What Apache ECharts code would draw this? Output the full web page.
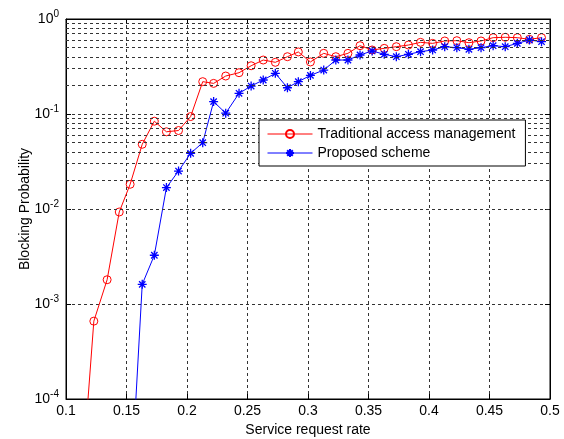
<!DOCTYPE html>
<html>
<head>
<meta charset="utf-8">
<script src="https://cdn.jsdelivr.net/npm/echarts@6/dist/echarts.min.js"></script>
<style>html,body{margin:0;padding:0;background:#fff;}#c{width:564px;height:439px;}</style>
</head>
<body>
<div id="c"></div>
<script>
// Data
var xRate = [0.113, 0.123, 0.134, 0.144, 0.153, 0.163, 0.173, 0.183, 0.193, 0.203,
             0.213, 0.222, 0.232, 0.243, 0.253, 0.263, 0.273, 0.283, 0.292, 0.302,
             0.313, 0.323, 0.333, 0.343, 0.353, 0.363, 0.373, 0.383, 0.393, 0.403,
             0.413, 0.423, 0.433, 0.443, 0.453, 0.463, 0.473, 0.483, 0.493];
var traditional = [1.3e-5, 0.00066, 0.0018, 0.0093, 0.0182, 0.048, 0.084, 0.065, 0.067, 0.094,
                   0.219, 0.21, 0.251, 0.272, 0.322, 0.37, 0.35, 0.401, 0.45, 0.353,
                   0.435, 0.401, 0.435, 0.524, 0.472, 0.491, 0.511, 0.532, 0.568, 0.554,
                   0.587, 0.591, 0.563, 0.587, 0.636, 0.642, 0.636, 0.611, 0.636];
var proposed = [null, null, null, null, 8e-6, 0.00161, 0.00326, 0.0168, 0.0251, 0.0386,
                0.0499, 0.135, 0.102, 0.165, 0.197, 0.228, 0.268, 0.189, 0.219, 0.255,
                0.29, 0.37, 0.37, 0.418, 0.461, 0.425, 0.401, 0.425, 0.453, 0.472,
                0.511, 0.499, 0.48, 0.499, 0.524, 0.511, 0.554, 0.601, 0.577];
var xTicks = [0.1, 0.15, 0.2, 0.25, 0.3, 0.35, 0.4, 0.45, 0.5];
var yDecades = [1e-4, 1e-3, 1e-2, 1e-1, 1];
var minorMultipliers = [2, 3, 4, 5, 6, 7, 8, 9];

var minorGrid = [];
for (var d = 0; d < yDecades.length - 1; d++) {
  for (var m = 0; m < minorMultipliers.length; m++) {
    minorGrid.push({ yAxis: yDecades[d] * minorMultipliers[m] });
  }
}

function pairs(ys) {
  var out = [];
  for (var i = 0; i < xRate.length; i++) {
    if (ys[i] != null) out.push([xRate[i], ys[i]]);
  }
  return out;
}

var FONT = 'Arial, "Liberation Sans", sans-serif';
var gridStyle = { color: '#333', type: [3, 3], width: 1 };
var star = 'path://M0,-10L0,10M-10,0L10,0M-7.07,-7.07L7.07,7.07M-7.07,7.07L7.07,-7.07';

var chart = echarts.init(document.getElementById('c'), null, { renderer: 'canvas' });
chart.setOption({
  backgroundColor: '#fff',
  animation: false,
  grid: { left: 66, right: 14, top: 19, bottom: 40, containLabel: false, outerBoundsMode: 'none',
          show: true, borderColor: '#000', borderWidth: 1, backgroundColor: '#fff' },
  legend: {
    orient: 'vertical', left: 259, top: 120, z: 50, zlevel: 0,
    backgroundColor: '#fff', borderColor: '#000', borderWidth: 1, borderRadius: 0,
    padding: [7, 10, 6, 8], itemGap: 5, itemWidth: 45, itemHeight: 10,
    lineStyle: { width: 1 },
    textStyle: { fontFamily: FONT, fontSize: 14, color: '#000' },
    data: ['Traditional access management', 'Proposed scheme']
  },
  xAxis: [{
    type: 'value', min: xTicks[0], max: xTicks[xTicks.length - 1], interval: 0.05,
    name: 'Service request rate', nameLocation: 'middle', nameGap: 24, nameMoveOverlap: false,
    nameTextStyle: { fontFamily: FONT, fontSize: 14, color: '#000' },
    axisLine: { show: true, lineStyle: { color: '#000' } },
    axisTick: { show: true, inside: true, length: 5, lineStyle: { color: '#000' } },
    axisLabel: { fontFamily: FONT, fontSize: 14, color: '#000', margin: 5 },
    splitLine: { show: true, lineStyle: gridStyle }
  }, {
    type: 'value', position: 'top', min: xTicks[0], max: xTicks[xTicks.length - 1], interval: 0.05,
    axisLine: { show: true, lineStyle: { color: '#000' } },
    axisTick: { show: true, inside: true, length: 5, lineStyle: { color: '#000' } },
    axisLabel: { show: false }, splitLine: { show: false }
  }],
  yAxis: [{
    type: 'log', logBase: 10, min: yDecades[0], max: yDecades[yDecades.length - 1],
    name: 'Blocking Probability', nameLocation: 'middle', nameGap: 34, nameMoveOverlap: false,
    nameTextStyle: { fontFamily: FONT, fontSize: 14, color: '#000' },
    axisLine: { show: true, lineStyle: { color: '#000' } },
    axisTick: { show: true, inside: true, length: 5, lineStyle: { color: '#000' } },
    axisLabel: {
      margin: 7,
      formatter: function (v) {
        var e = Math.round(Math.log(v) / Math.LN10);
        return '{b|10}{s|' + e + '}';
      },
      rich: {
        b: { fontFamily: FONT, fontSize: 14, color: '#000' },
        s: { fontFamily: FONT, fontSize: 10, color: '#000', padding: [0, 0, 10, 0] }
      }
    },
    splitLine: { show: true, lineStyle: gridStyle }
  }, {
    type: 'log', logBase: 10, position: 'right', min: yDecades[0], max: yDecades[yDecades.length - 1],
    axisLine: { show: true, lineStyle: { color: '#000' } },
    axisTick: { show: true, inside: true, length: 5, lineStyle: { color: '#000' } },
    axisLabel: { show: false }, splitLine: { show: false }
  }],
  series: [{
    name: 'minor-grid', type: 'line', data: [], silent: true, z: 1,
    markLine: {
      silent: true, symbol: 'none', animation: false,
      label: { show: false },
      lineStyle: gridStyle,
      data: minorGrid
    }
  }, {
    name: 'Traditional access management', type: 'line', z: 3,
    data: pairs(traditional),
    symbol: 'circle', symbolSize: 8, showSymbol: true,
    lineStyle: { color: '#ff0000', width: 1 },
    itemStyle: { color: 'rgba(0,0,0,0)', borderColor: '#ff0000', borderWidth: 1 },
    clip: true
  }, {
    name: 'Proposed scheme', type: 'line', z: 4,
    data: pairs(proposed),
    symbol: star, symbolSize: 9, showSymbol: true,
    lineStyle: { color: '#0000ff', width: 1 },
    itemStyle: { color: '#0000ff', borderColor: '#0000ff', borderWidth: 1.3 },
    clip: true
  }]
});
</script>
</body>
</html>
